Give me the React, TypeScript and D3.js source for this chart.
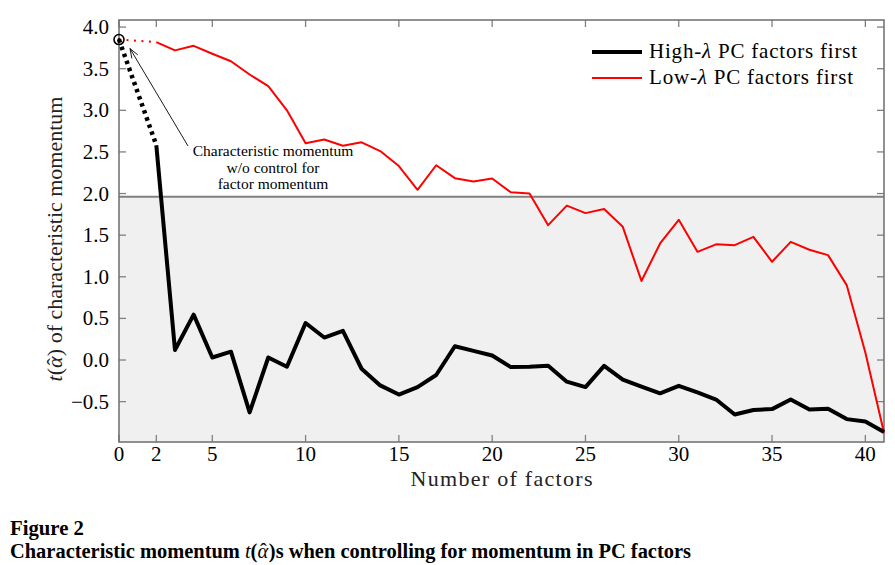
import React from 'react';
import * as d3 from 'd3';

// number of PC factors controlled for (x = 0 is the no-control case)
const factorCounts = [2, 3, 4, 5, 6, 7, 8, 9, 10, 11, 12, 13, 14, 15, 16, 17, 18, 19, 20, 21,
  22, 23, 24, 25, 26, 27, 28, 29, 30, 31, 32, 33, 34, 35, 36, 37, 38, 39, 40, 41];
const highLambda = [2.58, 0.12, 0.545, 0.03, 0.10, -0.63, 0.03, -0.08, 0.445, 0.27, 0.35, -0.105,
  -0.305, -0.415, -0.325, -0.18, 0.165, 0.11, 0.055, -0.085, -0.08, -0.07, -0.26, -0.325, -0.07,
  -0.235, -0.32, -0.40, -0.31, -0.39, -0.475, -0.655, -0.60, -0.59, -0.475, -0.595, -0.585, -0.71,
  -0.74, -0.865];
const lowLambda = [3.82, 3.72, 3.775, 3.68, 3.59, 3.43, 3.29, 3.0, 2.605, 2.65, 2.575, 2.615, 2.51,
  2.33, 2.045, 2.34, 2.185, 2.145, 2.18, 2.015, 2.0, 1.62, 1.855, 1.765, 1.815, 1.60, 0.95, 1.40,
  1.685, 1.30, 1.39, 1.38, 1.48, 1.18, 1.42, 1.325, 1.26, 0.90, 0.09, -0.875];
const noControl = 3.85;
const threshold = 1.96;
const xTicks = [0, 2, 5, 10, 15, 20, 25, 30, 35, 40];
const yTicks = [-0.5, 0, 0.5, 1, 1.5, 2, 2.5, 3, 3.5, 4];

const W = 895;
const H = 565;
const left = 119, right = 884, top = 20, bottom = 442;
const SERIF = "'Liberation Serif', 'Times New Roman', serif";

const txt = (size: number, extra: React.CSSProperties = {}): React.CSSProperties => ({
  fontFamily: SERIF,
  fontSize: size + 'px',
  ...extra,
});
const it = { fontStyle: 'italic' } as React.CSSProperties;

export default function App() {
  const x = d3.scaleLinear().domain([0, 41]).range([left, right]);
  const y = d3.scaleLinear().domain([-0.985, 4.085]).range([bottom, top]);

  const line = d3.line<[number, number]>().x(d => x(d[0])).y(d => y(d[1]));
  const blackPts = factorCounts.map((f, i) => [f, highLambda[i]] as [number, number]);
  const redPts = factorCounts.map((f, i) => [f, lowLambda[i]] as [number, number]);

  const tickCol = '#808080';
  const tl = 7;
  const fmt = (v: number) => (v < 0 ? '\u2212' : '') + Math.abs(v).toFixed(1);

  // annotation arrow
  const ax0 = 188, ay0 = 146, ax1 = x(0) + 11, ay1 = y(noControl) + 9;
  const ang = Math.atan2(ay0 - ay1, ax0 - ax1);
  const ah = 10, aw = 0.35;
  const head = `M${ax1 + ah * Math.cos(ang - aw)},${ay1 + ah * Math.sin(ang - aw)}L${ax1},${ay1}L${ax1 + ah * Math.cos(ang + aw)},${ay1 + ah * Math.sin(ang + aw)}`;

  return (
    <svg width={W} height={H} style={{ position: 'absolute', left: 0, top: 0, background: '#fff' }}>
      {/* shaded insignificance band */}
      <rect x={left} y={y(threshold)} width={right - left} height={bottom - y(threshold)} fill="#f0f0f0" />
      <line x1={left} x2={right} y1={y(threshold)} y2={y(threshold)} stroke="#808080" strokeWidth={2} />

      {/* ticks */}
      {xTicks.map(t => (
        <g key={'xt' + t}>
          <line x1={x(t)} x2={x(t)} y1={bottom} y2={bottom - tl} stroke={tickCol} strokeWidth={1.3} />
          <line x1={x(t)} x2={x(t)} y1={top} y2={top + tl} stroke={tickCol} strokeWidth={1.3} />
          <text x={x(t)} y={461} textAnchor="middle" fill="#000" style={txt(21)}>{t}</text>
        </g>
      ))}
      {yTicks.map(t => (
        <g key={'yt' + t}>
          <line x1={left} x2={left + tl} y1={y(t)} y2={y(t)} stroke={tickCol} strokeWidth={1.3} />
          <line x1={right} x2={right - tl} y1={y(t)} y2={y(t)} stroke={tickCol} strokeWidth={1.3} />
          <text x={109} y={y(t) + 7} textAnchor="end" fill="#000" style={txt(21)}>{fmt(t)}</text>
        </g>
      ))}

      {/* frame */}
      <rect x={left} y={top} width={right - left} height={bottom - top} fill="none" stroke="#6e6e6e" strokeWidth={1.5} />

      {/* series */}
      <path d={line([[0, noControl], redPts[0]]) || ''} fill="none" stroke="#ff0000" strokeWidth={2} strokeDasharray="2 5.5" />
      <path d={line(redPts) || ''} fill="none" stroke="#ff0000" strokeWidth={2} strokeLinejoin="round" />
      <path d={line([[0, noControl], blackPts[0]]) || ''} fill="none" stroke="#000" strokeWidth={4.5} strokeDasharray="3.5 4" />
      <path d={line(blackPts) || ''} fill="none" stroke="#000" strokeWidth={4} strokeLinejoin="round" />

      {/* no-control marker */}
      <circle cx={x(0)} cy={y(noControl)} r={5} fill="none" stroke="#000" strokeWidth={1.6} />
      <circle cx={x(0)} cy={y(noControl)} r={1.6} fill="#000" />

      {/* annotation */}
      <line x1={ax0} y1={ay0} x2={ax1} y2={ay1} stroke="#000" strokeWidth={0.9} />
      <path d={head} fill="none" stroke="#000" strokeWidth={0.9} />
      <g textAnchor="middle" fill="#000" style={txt(15.5)}>
        <text x={273} y={156}>Characteristic momentum</text>
        <text x={273} y={172.5}>w/o control for</text>
        <text x={273} y={189}>factor momentum</text>
      </g>

      {/* legend */}
      <line x1={592} x2={642} y1={52} y2={52} stroke="#000" strokeWidth={4} />
      <text x={649} y={58} fill="#000" style={txt(21)} textLength={208} lengthAdjust="spacing">
        High-<tspan style={it}>λ</tspan> PC factors first
      </text>
      <line x1={592} x2={642} y1={78} y2={78} stroke="#ff0000" strokeWidth={2} />
      <text x={649} y={84} fill="#000" style={txt(21)} textLength={204} lengthAdjust="spacing">
        Low-<tspan style={it}>λ</tspan> PC factors first
      </text>

      {/* axis titles */}
      <text x={(left + right) / 2} y={486} textAnchor="middle" fill="#222" style={txt(22)} textLength={182} lengthAdjust="spacing">Number of factors</text>
      <text transform={`translate(62, ${(top + bottom) / 2 + 8}) rotate(-90)`} textAnchor="middle" fill="#222" style={txt(22)}>
        <tspan style={it}>t</tspan>(<tspan style={it}>α</tspan><tspan dx={-9}>ˆ</tspan><tspan dx={2}>) of characteristic momentum</tspan>
      </text>

      {/* caption */}
      <text x={10} y={535} fill="#000" style={txt(20, { fontWeight: 'bold' })} textLength={74} lengthAdjust="spacingAndGlyphs">Figure 2</text>
      <text x={10} y={558} fill="#000" style={txt(20, { fontWeight: 'bold' })} textLength={681} lengthAdjust="spacingAndGlyphs">
        Characteristic momentum <tspan style={{ fontStyle: 'italic', fontWeight: 'normal' }}>t</tspan>(<tspan style={{ fontStyle: 'italic', fontWeight: 'normal' }}>α</tspan><tspan dx={-8} style={{ fontWeight: 'normal' }}>ˆ</tspan><tspan dx={2}>)s when controlling for momentum in PC factors</tspan>
      </text>
    </svg>
  );
}
